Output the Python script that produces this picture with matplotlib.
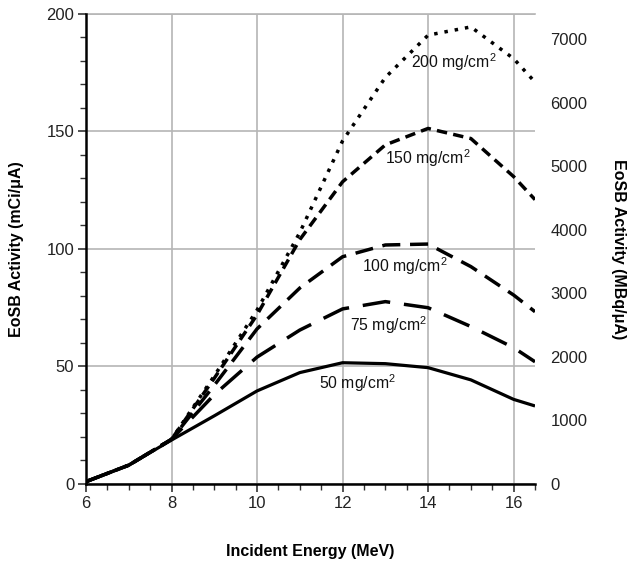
import matplotlib
matplotlib.use("Agg")
import matplotlib.pyplot as plt
from matplotlib.ticker import MultipleLocator

plt.rcParams['font.family'] = ['Liberation Sans', 'DejaVu Sans']
plt.rcParams['mathtext.fontset'] = 'custom'
plt.rcParams['mathtext.rm'] = 'Liberation Sans'
plt.rcParams['mathtext.it'] = 'Liberation Sans'

energy = [6, 7, 8, 9, 10, 11, 12, 13, 14, 15, 16, 16.5]
act_50 = [1, 8, 18.7, 29, 39.6, 47.4, 51.6, 51.2, 49.5, 44.3, 36, 33.2]
act_75 = [1, 8, 19, 38, 54, 65.5, 74.5, 77.6, 75, 67, 58, 52]
act_100 = [1, 8, 19, 42, 66, 83.4, 96.7, 101.7, 102.1, 92.5, 80.4, 73.3]
act_150 = [1, 8, 19, 45, 72, 104, 128.6, 144.3, 151.3, 147, 130.8, 121]
act_200 = [1, 8, 19, 46, 74, 107, 146, 173, 191, 194.5, 181, 171]

series = [
    (act_50, "50 mg/cm$^2$", None, 12.34, 42.8),
    (act_75, "75 mg/cm$^2$", (0, (8, 4)), 13.08, 67.7),
    (act_100, "100 mg/cm$^2$", (0, (5.2, 2.8)), 13.45, 92.5),
    (act_150, "150 mg/cm$^2$", (0, (3, 1.8)), 14.0, 138.6),
    (act_200, "200 mg/cm$^2$", (0, (1, 2)), 14.6, 179.7),
]

fig = plt.figure(figsize=(6.29, 5.71), dpi=100)
ax = fig.add_axes([0.1367, 0.1524, 0.7139, 0.8231])

for vals, lab, dash, tx, ty in series:
    if dash is None:
        ax.plot(energy, vals, color='black', lw=2.3, solid_capstyle='butt', zorder=3)
    else:
        ax.plot(energy, vals, color='black', lw=2.5, linestyle=dash, zorder=3)
    ax.text(tx, ty, lab, ha='center', va='center', fontsize=11.3, color='#111111',
            zorder=4)

ax.set_xlim(6, 16.5)
ax.set_ylim(0, 200)
ax.xaxis.set_major_locator(MultipleLocator(2))
ax.xaxis.set_minor_locator(MultipleLocator(0.5))
ax.yaxis.set_major_locator(MultipleLocator(50))
ax.yaxis.set_minor_locator(MultipleLocator(10))
ax.grid(True, which='major', color='#b5b5b5', lw=1.2, zorder=0)
ax.axhline(200, color='#b5b5b5', lw=1.2, zorder=0, clip_on=False)
ax.spines['top'].set_visible(False)
ax.spines['right'].set_visible(False)
ax.spines['left'].set_linewidth(1.8)
ax.spines['bottom'].set_linewidth(1.8)
ax.tick_params(axis='both', which='major', direction='out', length=6, width=1.2,
               labelsize=12, color='#333333', labelcolor='#222222', pad=2.5)
ax.tick_params(axis='both', which='minor', direction='out', length=4, width=1.0,
               color='#333333')
ax.set_xlabel("Incident Energy (MeV)", fontsize=11.5, fontweight='bold', labelpad=24)
ax.set_ylabel("EoSB Activity (mCi/\u03bcA)", fontsize=11.5, fontweight='bold', labelpad=16)

ax2 = ax.twinx()
ax2.set_ylim(0, 200 * 37)
ax2.yaxis.set_major_locator(MultipleLocator(1000))
ax2.tick_params(axis='y', length=0, pad=11, labelsize=12, labelcolor='#222222')
for s in ax2.spines.values():
    s.set_visible(False)
ax2.set_ylabel("EoSB Activity (MBq/\u03bcA)", fontsize=11.5, fontweight='bold',
               rotation=270, labelpad=28)

fig.savefig("out.png", dpi=100)
